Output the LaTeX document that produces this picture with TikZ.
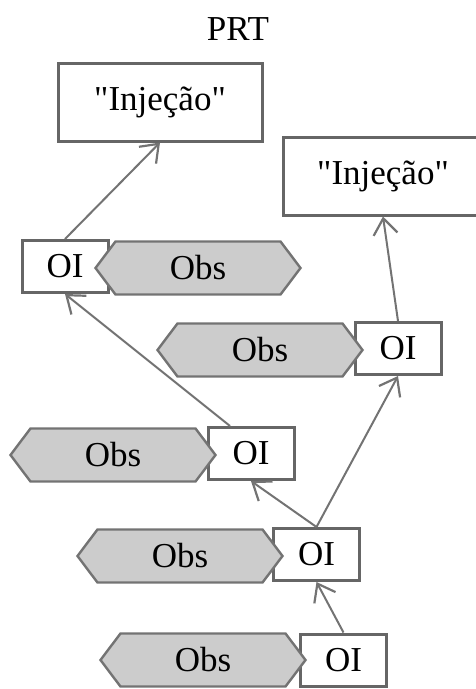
\documentclass[tikz,border=0pt]{standalone}
\usepackage{fontspec}
\setmainfont{Liberation Serif}
\usetikzlibrary{shapes.symbols,arrows.meta}

\begin{document}
\begin{tikzpicture}[x=1pt,y=-1pt,
  font=\fontsize{35}{40}\selectfont,
  caixa/.style={draw=black!60,line width=3pt,fill=white,inner sep=0pt},
  oi/.style={caixa,minimum width=86pt,minimum height=52pt},
  inj/.style={caixa,minimum height=78pt},
  obs/.style={signal,signal to=west and east,signal pointer angle=106,
    draw=black!55,line width=2.4pt,fill=black!20,
    minimum width=205pt,minimum height=53pt,inner sep=0pt},
  seta/.style={draw=black!55,line width=2pt,
    -{Straight Barb[length=16pt,width=24pt,line width=2.2pt]}}]
  \useasboundingbox (0,0) rectangle (475,689);

  \node (titulo) at (238,29) {PRT};
  \node[inj,minimum width=204pt] (inj1) at (160,102) {\textquotedbl Injeção\textquotedbl};
  \node[inj,minimum width=200pt] (inj2) at (383,176) {\textquotedbl Injeção\textquotedbl};

  % caixas OI
  \node[oi] (oi1) at (65,266.5) {OI};
  \node[oi] (oi2) at (398,348.5) {OI};
  \node[oi] (oi3) at (251,453.5) {OI};
  \node[oi] (oi4) at (316.5,554.5) {OI};
  \node[oi] (oi5) at (343.5,660) {OI};

  % observacoes
  \node[obs] (obs1) at (198,268) {Obs};
  \node[obs] (obs2) at (260,350) {Obs};
  \node[obs] (obs3) at (113,455) {Obs};
  \node[obs] (obs4) at (180,556) {Obs};
  \node[obs] (obs5) at (203,660) {Obs};

  \draw[seta] (oi5.north) -- (oi4.south);
  \draw[seta] (oi4.north) -- (oi3.south);
  \draw[seta] (oi4.north) -- (oi2.south);
  \draw[seta] ([xshift=-21pt]oi3.north) -- (oi1.south);
  \draw[seta] (oi1.north) -- (inj1.south);
  \draw[seta] (oi2.north) -- (inj2.south);
\end{tikzpicture}
\end{document}
